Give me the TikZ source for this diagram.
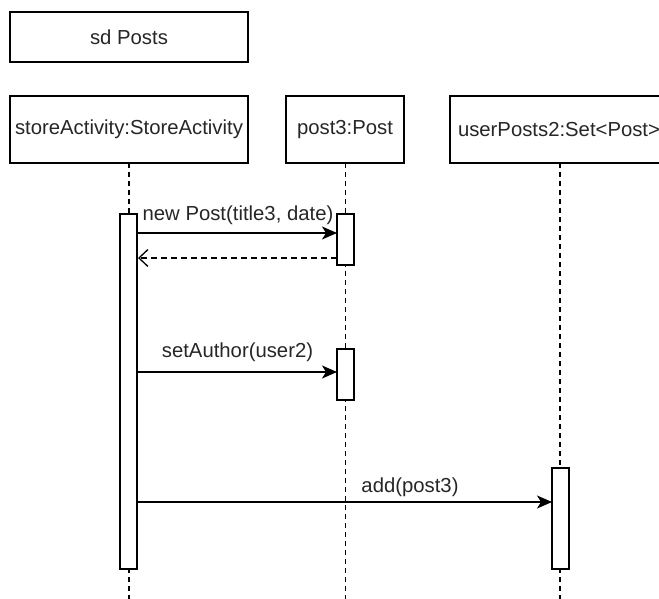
\documentclass[tikz,border=0pt]{standalone}
\usepackage{fontspec}
\setmainfont{Liberation Sans}
\usetikzlibrary{arrows.meta}
\begin{document}
\begin{tikzpicture}[x=1pt,y=-1pt,
  line width=1.3pt,
  every node/.style={font=\fontsize{20.3}{23}\selectfont, inner sep=0pt, text=black!85},
  obj/.style={draw, line width=1.3pt},
  life/.style={line width=1.3pt, dash pattern=on 5pt off 4pt},
  act/.style={draw, fill=white, line width=1.3pt},
  msg/.style={line width=1.3pt, -{Stealth[length=15pt,width=13pt,inset=4pt]}},
  ret/.style={line width=1.3pt, dash pattern=on 6pt off 4pt, -{Straight Barb[length=9pt,width=17pt]}},
  lbl/.style={anchor=base}]
\useasboundingbox (0,0) rectangle (659,599);
\clip (0,0) rectangle (659,599);
% frame label
\draw[obj] (10,12) rectangle (248,62);
\node (sd) at (129,37) {sd Posts};
% objects
\draw[obj] (10,96) rectangle (248,163);
\node (sa) at (129,129.5) {storeActivity:StoreActivity};
\draw[obj] (286,96) rectangle (404,163);
\node (p3) at (345,129.5) {post3:Post};
\draw[obj] (450,96) rectangle (670,163);
\node (up) at (559,129.5) {userPosts2:Set<Post>};
% lifelines
\coordinate (saT) at (129,163); \coordinate (saB) at (129,599);
\coordinate (p3T) at (345.5,163); \coordinate (p3B) at (345.5,599);
\coordinate (upT) at (560,163); \coordinate (upB) at (560,599);
\draw[life] (saT) -- (saB);
\draw[life] (p3T) -- (p3B);
\draw[life] (upT) -- (upB);
% activations
\draw[act] (120,214) rectangle (137,569);
\draw[act] (337,214) rectangle (354,265);
\draw[act] (337,349) rectangle (354,400);
\draw[act] (552,468) rectangle (569,569);
% messages
\coordinate (m1a) at (137,233); \coordinate (m1b) at (337,233);
\draw[msg] (m1a) -- (m1b);
\node[lbl] (l1) at (238,221) {new Post(title3, date)};
\coordinate (r1a) at (337,258); \coordinate (r1b) at (138,258);
\draw[ret] (r1a) -- (r1b);
\coordinate (m2a) at (137,372); \coordinate (m2b) at (337,372);
\draw[msg] (m2a) -- (m2b);
\node[lbl] (l2) at (237.5,357) {setAuthor(user2)};
\coordinate (m3a) at (137,502); \coordinate (m3b) at (552,502);
\draw[msg] (m3a) -- (m3b);
\node[lbl] (l3) at (410,492) {add(post3)};
\end{tikzpicture}
\end{document}
